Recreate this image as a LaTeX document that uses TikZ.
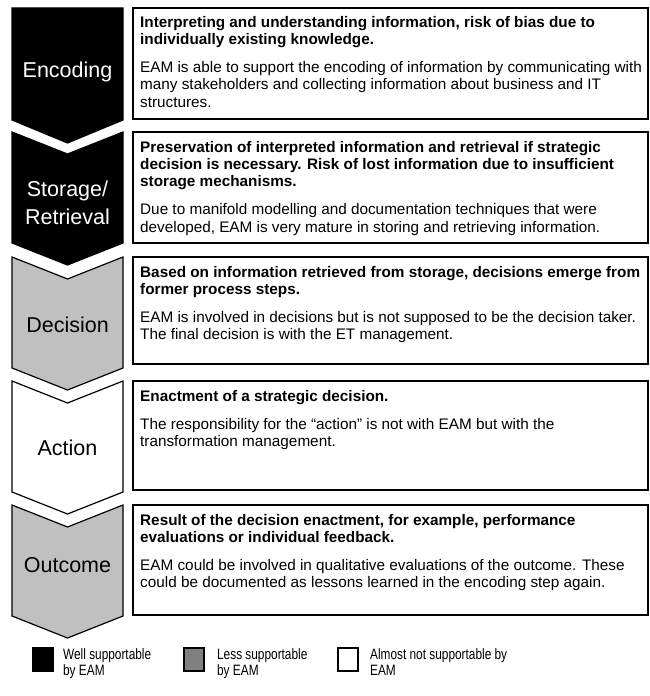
\documentclass[tikz,border=0pt]{standalone}
\usepackage{fontspec}
\setmainfont{Liberation Sans}
\definecolor{chevgrey}{HTML}{C0C0C0}
\definecolor{leggrey}{HTML}{808080}
\begin{document}
\begin{tikzpicture}[x=1bp,y=-1bp,
  chev/.style={draw=black,line width=1.2bp,line join=miter},
  well/.style={chev,fill=black},
  less/.style={chev,fill=chevgrey},
  notsup/.style={chev,fill=white},
  tbox/.style={draw=black,line width=1.5bp},
  txt/.style={anchor=north west,inner sep=0pt,align=left,font=\fontsize{15.3bp}{17.3bp}\selectfont},
  chevlab/.style={inner sep=0pt,align=center,font=\fontsize{21.5bp}{28bp}\selectfont},
  legsq/.style={draw=black,line width=1.5bp,minimum width=20bp,minimum height=23bp,inner sep=0pt,anchor=north west},
  legtxt/.style={anchor=north west,inner sep=0pt,align=left,font=\fontsize{15bp}{16.8bp}\selectfont,xscale=0.79,transform shape}
]
\useasboundingbox (0,0) rectangle (650,696);

% chevrons
\path[well] (12,8) -- (123,8) -- (123,120) -- (67.5,143) -- (12,120) -- cycle;
\path[well] (12,132) -- (67.5,154) -- (123,132) -- (123,243) -- (67.5,265) -- (12,243) -- cycle;
\path[less] (12,257) -- (67.5,279) -- (123,257) -- (123,368) -- (67.5,390) -- (12,368) -- cycle;
\path[notsup] (12,381) -- (67.5,403) -- (123,381) -- (123,492) -- (67.5,514) -- (12,492) -- cycle;
\path[less] (12,505) -- (67.5,527) -- (123,505) -- (123,616) -- (67.5,638) -- (12,616) -- cycle;

% chevron labels
\node[chevlab,anchor=base,text=white] (lab1) at (67.5,77.5) {Encoding};
\node[chevlab,anchor=center,text=white] (lab2) at (67.5,202.5) {Storage/\\Retrieval};
\node[chevlab,anchor=base] (lab3) at (67.5,332.5) {Decision};
\node[chevlab,anchor=base] (lab4) at (67.5,455) {Action};
\node[chevlab,anchor=base] (lab5) at (67.5,572) {Outcome};

% text boxes
\draw[tbox] (133,8) rectangle (648,119);
\draw[tbox] (133,132) rectangle (648,243);
\draw[tbox] (133,257) rectangle (648,364);
\draw[tbox] (133,381) rectangle (648,490);
\draw[tbox] (133,505) rectangle (648,615);

\node[txt] (t1) at (140,16) {\textbf{Interpreting and understanding information, risk of bias due to}\\
\textbf{individually existing knowledge.}\\[10.7bp]
EAM is able to support the encoding of information by communicating with\\
many stakeholders and collecting information about business and IT\\
structures.};

\node[txt] (t2) at (140,141) {\textbf{Preservation of interpreted information and retrieval if strategic}\\
\textbf{decision is necessary. Risk of lost information due to insufficient}\\
\textbf{storage mechanisms.}\\[10.7bp]
Due to manifold modelling and documentation techniques that were\\
developed, EAM is very mature in storing and retrieving information.};

\node[txt] (t3) at (140,266) {\textbf{Based on information retrieved from storage, decisions emerge from}\\
\textbf{former process steps.}\\[10.7bp]
EAM is involved in decisions but is not supposed to be the decision taker.\\
The final decision is with the ET management.};

\node[txt] (t4) at (140,390) {\textbf{Enactment of a strategic decision.}\\[10.7bp]
The responsibility for the “action” is not with EAM but with the\\
transformation management.};

\node[txt] (t5) at (140,514) {\textbf{Result of the decision enactment, for example, performance}\\
\textbf{evaluations or individual feedback.}\\[10.7bp]
EAM could be involved in qualitative evaluations of the outcome. These\\
could be documented as lessons learned in the encoding step again.};

% legend
\node[legsq,fill=black] (sq1) at (32,647) {};
\node[legsq,fill=leggrey] (sq2) at (183,647) {};
\node[legsq,fill=white] (sq3) at (337,647) {};
\node[legtxt] (lt1) at (63,648) {Well supportable\\by EAM};
\node[legtxt] (lt2) at (217,648) {Less supportable\\by EAM};
\node[legtxt] (lt3) at (370,648) {Almost not supportable by\\EAM};
\end{tikzpicture}
\end{document}
